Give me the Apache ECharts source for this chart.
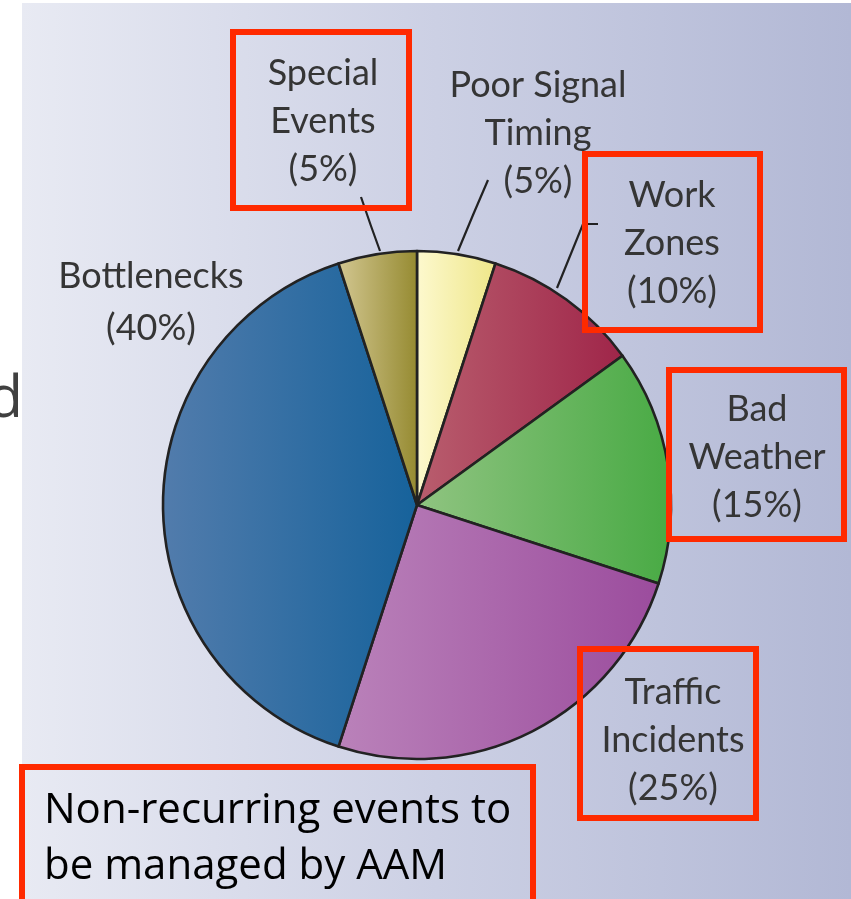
<!DOCTYPE html>
<html>
<head>
<meta charset="utf-8">
<script src="https://cdn.jsdelivr.net/npm/echarts@6/dist/echarts.min.js"></script>
<style>
html,body{margin:0;padding:0;background:#ffffff;}
#chart{width:851px;height:899px;}
</style>
</head>
<body>
<div id="chart"></div>
<script>
// ---- data ----
const categories = ['Poor Signal\nTiming', 'Work\nZones', 'Bad\nWeather', 'Traffic\nIncidents', 'Bottlenecks', 'Special\nEvents'];
const values = [5, 10, 15, 25, 40, 5];
const noteLines = ['Non-recurring events to', 'be managed by AAM'];

// ---- styles ----
const colorLeft  = ['#fdf9cf', '#b95e6e', '#90c481', '#ba82ba', '#527cac', '#d3c792'];
const colorRight = ['#eee688', '#9f2549', '#48aa44', '#9b4c9d', '#16629b', '#958a30'];
const hasLeader  = [true, true, false, false, false, true];
const labelPos = [[538, 133], [672, 243], [757, 457], [673, 740], [151, 302], [323, 121]];
const leaderPts = [
  [[458, 251], [473, 215], [488, 180]],
  [[557, 288], [583, 224], [598, 224]],
  null, null, null,
  [[380, 251], [371, 226], [361, 197]]
];
const redBoxes = [
  [233, 32, 176, 176],
  [585, 154, 175, 176],
  [669, 370, 175, 169],
  [580, 649, 176, 169],
  [22, 767, 511, 200]
];

const chart = echarts.init(document.getElementById('chart'), null, {renderer: 'canvas'});

const graphics = [
  {
    type: 'rect', z: -10, silent: true,
    shape: {x: 22, y: 3, width: 829, height: 896},
    style: {
      fill: new echarts.graphic.LinearGradient(0, 0, 1, 0, [
        {offset: 0, color: '#e8eaf3'},
        {offset: 0.5, color: '#ccd0e4'},
        {offset: 1, color: '#b2b8d5'}
      ])
    }
  },
  {
    type: 'text', z: 50, silent: true,
    style: {text: 'd', x: 23, y: 400, textAlign: 'right', textVerticalAlign: 'middle',
            font: '58px "Open Sans"', fill: '#404040'}
  }
];
redBoxes.forEach(b => graphics.push({
  type: 'rect', z: 100, silent: true,
  shape: {x: b[0], y: b[1], width: b[2], height: b[3]},
  style: {fill: 'rgba(0,0,0,0)', stroke: '#ff2a00', lineWidth: 6}
}));
noteLines.forEach((t, i) => graphics.push({
  type: 'text', z: 101, silent: true,
  style: {text: t, x: 44, y: 811 + i * 56, textAlign: 'left', textVerticalAlign: 'middle',
          font: '42px "Open Sans"', fill: '#000000'}
}));

const option = {
  animation: false,
  backgroundColor: '#ffffff',
  graphic: graphics,
  series: [{
    type: 'pie',
    center: [417, 505],
    radius: 254,
    startAngle: 90,
    clockwise: true,
    avoidLabelOverlap: false,
    itemStyle: {borderColor: '#222222', borderWidth: 2.6},
    label: {
      show: true, position: 'outside', formatter: '{b}\n({c}%)',
      fontFamily: 'Lato', fontSize: 36, lineHeight: 48, color: '#353535', align: 'center'
    },
    labelLine: {show: true, length: 20, length2: 10, lineStyle: {color: '#222222', width: 2.2}},
    labelLayout: function (p) {
      const i = p.dataIndex;
      const o = {x: labelPos[i][0], y: labelPos[i][1], align: 'center', verticalAlign: 'middle'};
      if (leaderPts[i]) o.labelLinePoints = leaderPts[i];
      return o;
    },
    emphasis: {disabled: true},
    data: categories.map((n, i) => ({
      name: n,
      value: values[i],
      itemStyle: {
        color: new echarts.graphic.LinearGradient(0, 0, 1, 0, [
          {offset: 0, color: colorLeft[i]},
          {offset: 1, color: colorRight[i]}
        ])
      },
      label: i === 4 ? {lineHeight: 52} : {},
      labelLine: {show: hasLeader[i]}
    }))
  }]
};
chart.setOption(option);
</script>
</body>
</html>
